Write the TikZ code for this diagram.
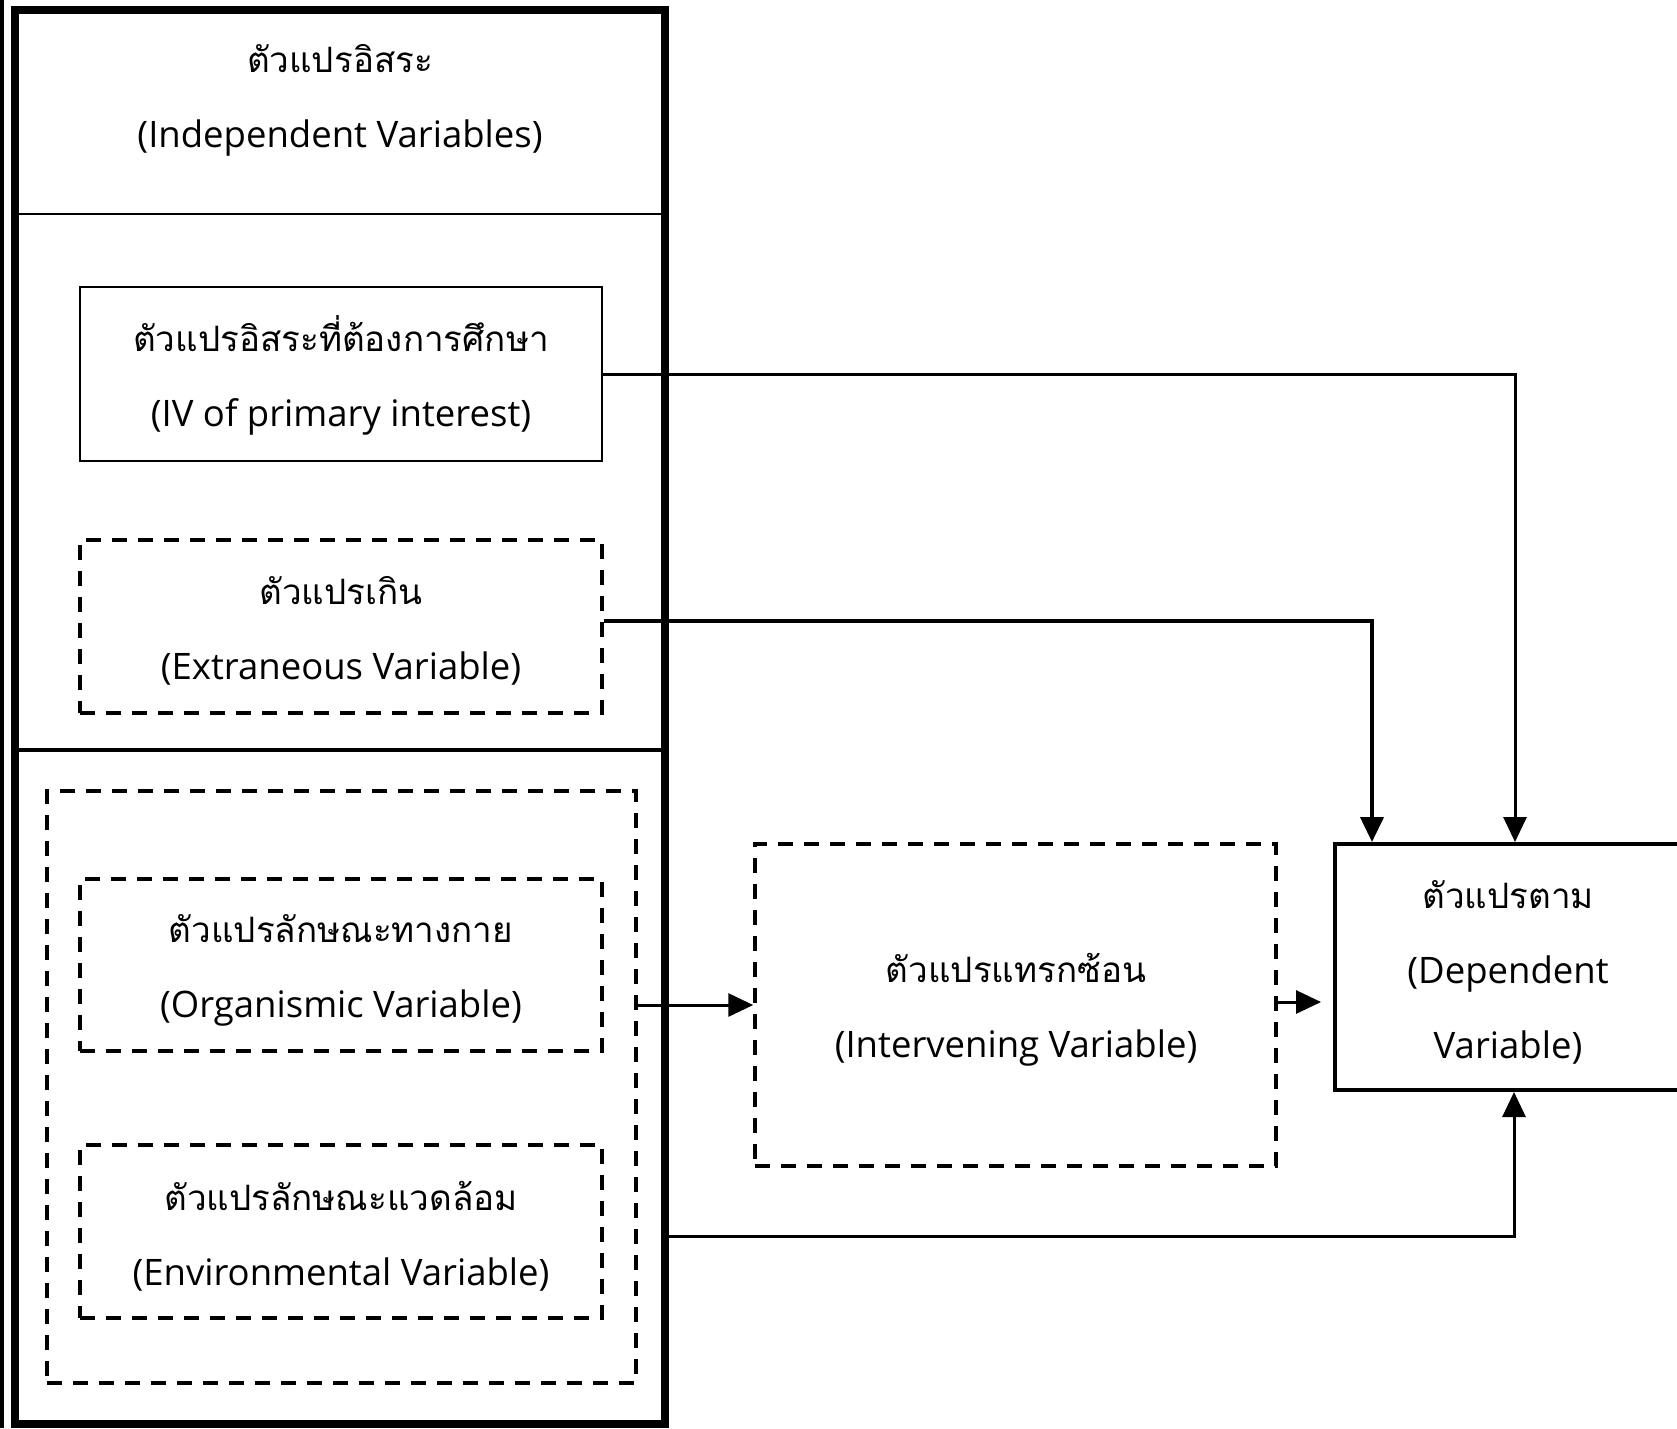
\documentclass[tikz,border=0pt]{standalone}
\usepackage{fontspec}
\setmainfont[Script=Thai]{Loma}
\newfontfamily\enfont{Open Sans}
\newcommand{\en}[1]{{\enfont\fontsize{36.5}{75}\selectfont #1}}
\usetikzlibrary{arrows.meta}
\begin{document}
\begin{tikzpicture}[x=1pt,y=-1pt,
  every node/.style={font=\fontsize{35}{75}\selectfont, align=center, inner sep=0pt},
  solidbox/.style={draw, line width=2pt, rectangle},
  dashbox/.style={draw, line width=3.5pt, rectangle, dash pattern=on 15pt off 11pt},
  conn/.style={line width=3pt, -{Triangle[length=25pt,width=23pt]}},
]
\useasboundingbox (0,0) rectangle (1677,1428);
\fill[white] (0,0) rectangle (1677,1428);
\fill[black] (0,0) rectangle (4,1428);

% outer frame of the independent variables
\node[draw, line width=8pt, minimum width=650pt, minimum height=1414pt] (F) at (340,717) {};
\draw[line width=2.5pt] (15,214) -- (665,214);
\draw[line width=4pt] (15,750) -- (665,750);

\node (T) at (340,100) {ตัวแปรอิสระ\\\en{(Independent Variables)}};

\node[solidbox, minimum width=522pt, minimum height=174pt] (IV) at (341,374) {};
\node at (341,375) {ตัวแปรอิสระที่ต้องการศึกษา\\\en{(IV of primary interest)}};

\node[dashbox, minimum width=522pt, minimum height=173pt] (EX) at (341,626.5) {};
\node at (341,631) {ตัวแปรเกิน\\\en{(Extraneous Variable)}};

\node[dashbox, minimum width=589pt, minimum height=592pt] (G) at (341.5,1087) {};
\node[dashbox, minimum width=522pt, minimum height=172pt] (ORG) at (341,965) {};
\node at (341,970) {ตัวแปรลักษณะทางกาย\\\en{(Organismic Variable)}};
\node[dashbox, minimum width=522pt, minimum height=173pt] (ENV) at (341,1231.5) {};
\node at (341,1236) {ตัวแปรลักษณะแวดล้อม\\\en{(Environmental Variable)}};

\node[dashbox, minimum width=521pt, minimum height=322pt] (INT) at (1015.5,1005) {};
\node at (1016,1010) {ตัวแปรแทรกซ้อน\\\en{(Intervening Variable)}};
\node[draw, line width=4pt, minimum width=346pt, minimum height=246pt] (DEP) at (1508,967) {};
\node at (1508,972) {ตัวแปรตาม\\\en{(Dependent}\\\en{Variable)}};

% connectors
\draw[conn] (IV.east) -| ([xshift=7pt]DEP.north);
\draw[conn, line width=4pt] ([yshift=6pt]EX.east) -| ([xshift=39pt]DEP.north west);
\draw[conn] (G.east |- INT.west) -- (INT.west);
\draw[conn, shorten >=12pt] ([yshift=3pt]INT.east) -- ([yshift=3pt]INT.east -| DEP.west);
\draw[conn] (F.east |- 0,1236) -| ([xshift=6pt]DEP.south);
\end{tikzpicture}
\end{document}
